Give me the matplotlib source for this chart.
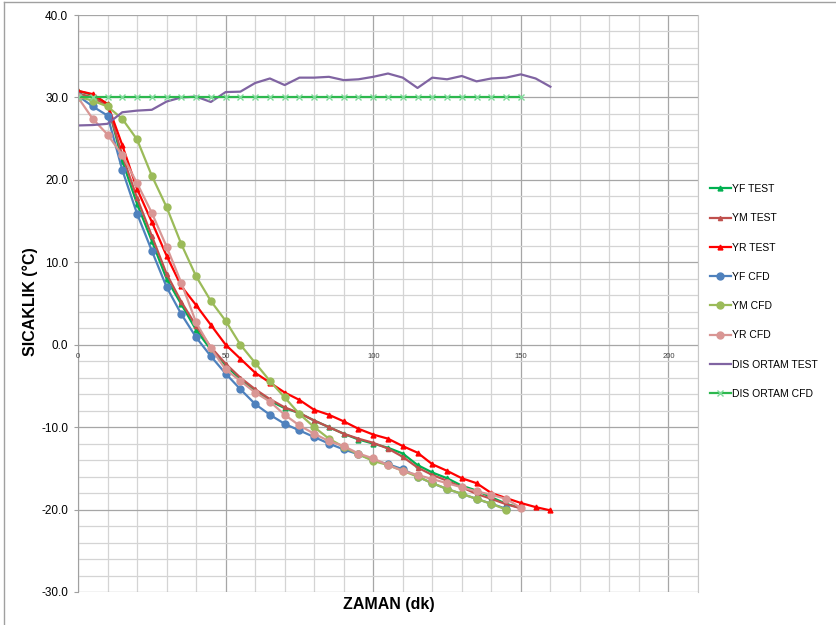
import matplotlib
matplotlib.use("Agg")
import matplotlib.pyplot as plt
from matplotlib.ticker import MultipleLocator, FormatStrFormatter
from matplotlib.lines import Line2D

plt.rcParams['font.family'] = ['Liberation Sans', 'DejaVu Sans']

# time (dk)
t150 = list(range(0, 151, 5))
t160 = list(range(0, 161, 5))
t145 = list(range(0, 146, 5))

yf_test = [30.8, 30.3, 29.2, 22.3, 17.1, 12.6, 8.0, 4.9, 1.8, -0.6, -2.5, -4.2, -5.6, -6.8, -7.7, -8.3,
           -9.2, -10.0, -10.8, -11.5, -12.0, -12.5, -13.2, -14.6, -15.5, -16.2, -17.1, -17.7, -18.5, -19.3, -19.8]
ym_test = [30.5, 30.0, 29.0, 23.0, 17.8, 13.2, 8.6, 5.2, 2.3, -0.3, -2.3, -4.0, -5.4, -6.6, -7.6, -8.3,
           -9.2, -10.0, -10.8, -11.4, -11.9, -12.6, -13.6, -14.9, -15.8, -16.5, -17.3, -18.1, -18.7, -19.35, -19.85]
yr_test = [30.8, 30.4, 29.2, 24.2, 18.9, 14.9, 10.8, 7.1, 4.8, 2.4, 0.0, -1.7, -3.4, -4.6, -5.8, -6.7,
           -7.9, -8.5, -9.3, -10.2, -10.9, -11.4, -12.3, -13.1, -14.5, -15.3, -16.2, -16.8, -18.0, -18.6,
           -19.2, -19.7, -20.1]
yf_cfd = [30.2, 28.9, 27.8, 21.2, 15.9, 11.4, 7.0, 3.7, 0.9, -1.4, -3.5, -5.4, -7.2, -8.5, -9.6, -10.4,
          -11.2, -12.0, -12.7, -13.3, -14.0, -14.5, -15.1, -16.0, -16.8, -17.5, -18.1, -18.7, -19.3, -19.9]
ym_cfd = [30.1, 29.6, 28.9, 27.4, 24.9, 20.5, 16.7, 12.2, 8.3, 5.3, 2.9, 0.0, -2.2, -4.4, -6.4, -8.4,
          -10.0, -11.4, -12.4, -13.3, -14.1, -14.6, -15.3, -16.0, -16.8, -17.5, -18.1, -18.7, -19.3, -20.0]
yr_cfd = [30.0, 27.4, 25.5, 23.0, 19.6, 16.0, 11.9, 7.5, 2.7, -0.4, -3.0, -4.4, -5.8, -6.9, -8.5, -9.8,
          -10.8, -11.7, -12.3, -13.2, -13.8, -14.6, -15.3, -15.8, -16.3, -16.8, -17.3, -17.8, -18.2, -18.7, -19.8]
dis_test = [26.6, 26.65, 26.8, 28.2, 28.4, 28.5, 29.5, 30.0, 30.1, 29.45, 30.65, 30.7, 31.75, 32.3, 31.5,
            32.4, 32.4, 32.5, 32.1, 32.2, 32.5, 32.9, 32.4, 31.15, 32.4, 32.2, 32.6, 31.95, 32.3, 32.4,
            32.8, 32.3, 31.3]
dis_cfd = [30.0] * len(t150)

fig = plt.figure(figsize=(8.36, 6.25), dpi=100)
ax = fig.add_axes([78/836, 1-592/625, 620/836, 577/625])

lw = 1.6
ax.plot(t150, yf_test, color='#00B050', lw=lw, marker='^', ms=3.5, label='YF TEST')
ax.plot(t150, ym_test, color='#C0504D', lw=lw, marker='^', ms=3.0, label='YM TEST')
ax.plot(t160, yr_test, color='#FF0000', lw=lw, marker='^', ms=3.5, label='YR TEST')
ax.plot(t145, yf_cfd, color='#4F81BD', lw=lw, marker='o', ms=5, label='YF CFD')
ax.plot(t145, ym_cfd, color='#9BBB59', lw=lw, marker='o', ms=5, label='YM CFD')
ax.plot(t150, yr_cfd, color='#D99694', lw=lw, marker='o', ms=5, label='YR CFD')
ax.plot(t160, dis_test, color='#8064A2', lw=lw, label='DIS ORTAM TEST')
ax.plot(t150, dis_cfd, color='#2DB84E', lw=lw, marker='x', ms=4.5, mec='#7FDB9A', mew=1.0,
        label='DIS ORTAM CFD')

ax.set_xlim(0, 210)
ax.set_ylim(-30, 40)
ax.xaxis.set_major_locator(MultipleLocator(50))
ax.xaxis.set_minor_locator(MultipleLocator(10))
ax.yaxis.set_major_locator(MultipleLocator(10))
ax.yaxis.set_minor_locator(MultipleLocator(2))
ax.yaxis.set_major_formatter(FormatStrFormatter('%.1f'))
ax.grid(which='major', color='#A6A6A6', lw=0.9)
ax.grid(which='minor', color='#D4D4D4', lw=0.9)
ax.set_axisbelow(True)

for s in ['top', 'bottom']:
    ax.spines[s].set_visible(False)
ax.spines['right'].set_color('#C8C8C8')
ax.spines['left'].set_color('#A0A0A0')
ax.tick_params(axis='y', which='major', length=3, color='#A0A0A0', labelsize=8.5, pad=4)
ax.tick_params(axis='y', which='minor', length=0)
ax.tick_params(axis='x', which='both', length=0, labelbottom=False)

# x tick labels sit on the y = 0 line
for v in [0, 50, 100, 150, 200]:
    ax.text(v, -1.0, str(v), ha='center', va='top', fontsize=5.5, color='#404040')

fig.text(389/836, 1-605/625, 'ZAMAN (dk)', ha='center', va='center', fontsize=11.5, fontweight='bold')
fig.text(30/836, 1-302/625, 'SICAKLIK (°C)', ha='center', va='center', rotation=90,
         fontsize=11.5, fontweight='bold')

fig.legend(loc='upper left', bbox_to_anchor=(710/836, 1-184/625), frameon=False, fontsize=7.5,
           handlelength=2.0, handletextpad=0.1, labelspacing=1.85, borderaxespad=0, borderpad=0)

# chart border (left and top edges visible)
fig.add_artist(Line2D([4/836, 4/836], [0, 1-2/625], color='#A0A0A0', lw=1))
fig.add_artist(Line2D([4/836, 1], [1-2/625, 1-2/625], color='#A0A0A0', lw=1))

fig.savefig('out.png', dpi=100)
